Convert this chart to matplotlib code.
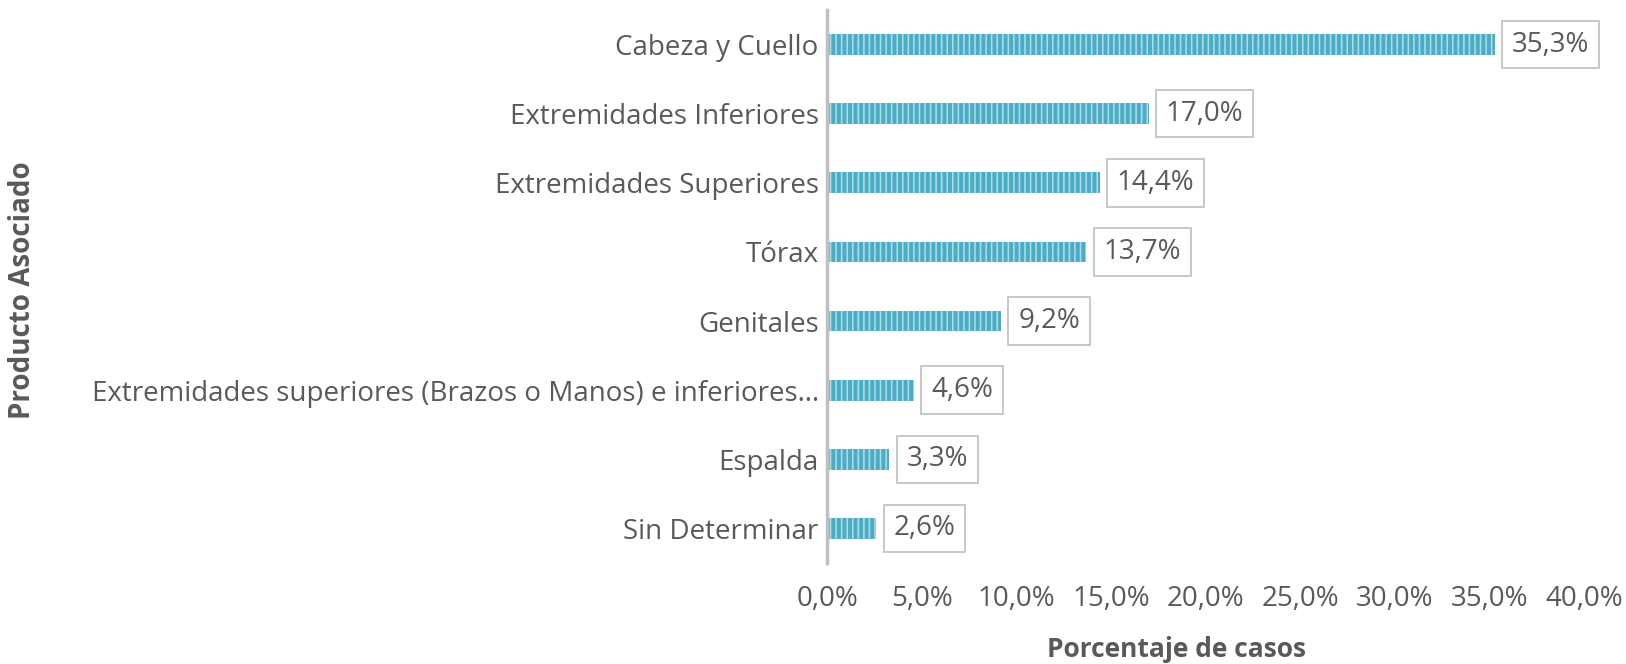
import numpy as np
import matplotlib
matplotlib.use("Agg")
import matplotlib.pyplot as plt

# data, top to bottom as shown
categories = [
    "Cabeza y Cuello",
    "Extremidades Inferiores",
    "Extremidades Superiores",
    "Tórax",
    "Genitales",
    "Extremidades superiores (Brazos o Manos) e inferiores…",
    "Espalda",
    "Sin Determinar",
]
values = [35.3, 17.0, 14.4, 13.7, 9.2, 4.6, 3.3, 2.6]
xticks = [0, 5, 10, 15, 20, 25, 30, 35, 40]

plt.rcParams["font.family"] = ["Open Sans", "DejaVu Sans"]
plt.rcParams["hatch.color"] = "#a9dbe8"
plt.rcParams["hatch.linewidth"] = 1.2
TXT = "#595959"
FS = 20

fig = plt.figure(figsize=(16.26, 6.64), dpi=100)
ax = fig.add_axes([827 / 1626, 1 - 563 / 664, (1584 - 827) / 1626, (563 - 10) / 664])

y = np.arange(len(categories))
ax.barh(y, values, height=0.3, color="#4bacc6", hatch="|||", edgecolor="#a9dbe8", linewidth=0)
ax.set_ylim(len(categories) - 0.5, -0.5)
ax.set_xlim(0, 40)

for yi, v in zip(y, values):
    ax.text(v + 0.9, yi, f"{v:.1f}%".replace(".", ","), va="center", ha="left",
            fontsize=FS, color=TXT,
            bbox=dict(boxstyle="square,pad=0.35", fc="white", ec="#bfbfbf", lw=1.2))

ax.set_yticks(y)
ax.set_yticklabels(categories, fontsize=FS, color=TXT)
ax.set_xticks(xticks)
ax.set_xticklabels([f"{t:.1f}%".replace(".", ",") for t in xticks], fontsize=FS, color=TXT)
ax.tick_params(length=0, axis="y", pad=6)
ax.tick_params(length=0, axis="x", pad=16)
for s in ["top", "right", "bottom"]:
    ax.spines[s].set_visible(False)
ax.spines["left"].set_color("#bfbfbf")
ax.spines["left"].set_linewidth(2.5)

fig.text(1176 / 1626, 1 - 657 / 664, "Porcentaje de casos", fontsize=19,
         fontweight="bold", color=TXT, ha="center", va="baseline")
fig.text(23 / 1626, 1 - 290 / 664, "Producto Asociado", rotation=90, fontsize=FS,
         fontweight="bold", color=TXT, ha="center", va="center")

fig.savefig("out.png", dpi=100)
